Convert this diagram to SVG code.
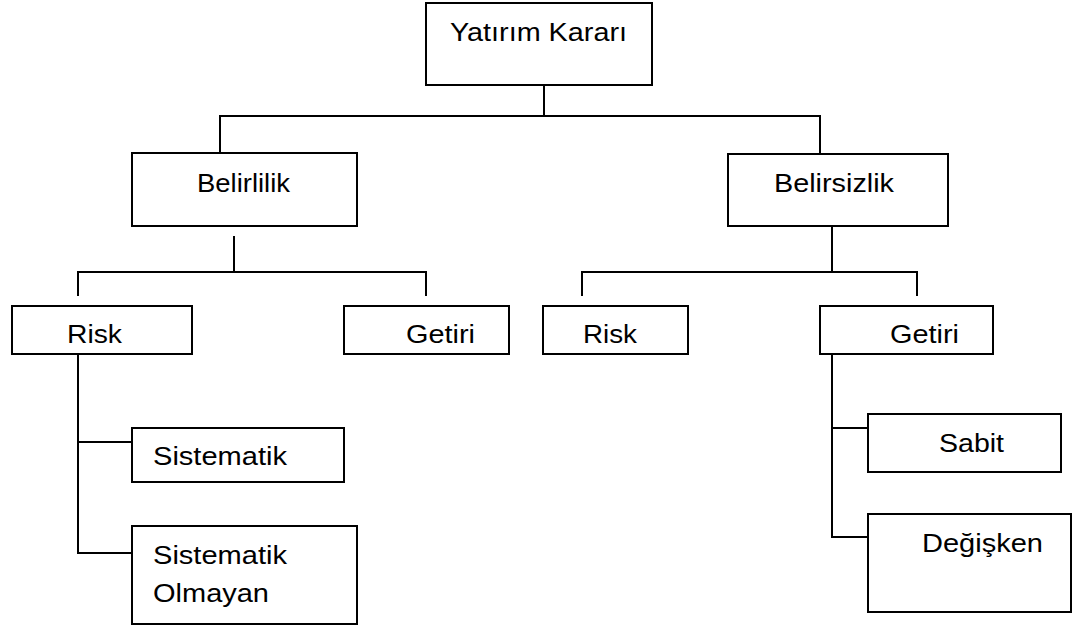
<svg xmlns="http://www.w3.org/2000/svg" width="1072" height="626" viewBox="0 0 1072 626">
  <style>
    .box { fill: #ffffff; stroke: #000000; stroke-width: 2; }
    .lbl { font-family: "Liberation Sans", Arial, sans-serif; font-size: 26px; fill: #000000; }
    .wire { fill: none; stroke: #000000; stroke-width: 2; }
  </style>
  <rect width="1072" height="626" fill="#ffffff"/>

  <!-- connectors -->
  <g id="connectors" class="wire">
    <path d="M544 85 V116 M220 153 V116 H820 V154"/>
    <path d="M234 236 V272 M78 296 V272 H426 V296"/>
    <path d="M832 226 V272 M582 296 V272 H917 V296"/>
    <path d="M78 354 V553 H132 M78 442 H132"/>
    <path d="M832 354 V537 H868 M832 428 H868"/>
  </g>

  <g id="yatirim-karari">
    <rect class="box" x="426" y="3" width="226" height="82"/>
    <text class="lbl" x="450" y="41" textLength="177" lengthAdjust="spacingAndGlyphs">Yatırım Kararı</text>
  </g>

  <g id="belirlilik">
    <rect class="box" x="132" y="153" width="225" height="73"/>
    <text class="lbl" x="197" y="192" textLength="93" lengthAdjust="spacingAndGlyphs">Belirlilik</text>
  </g>

  <g id="belirsizlik">
    <rect class="box" x="728" y="154" width="220" height="72"/>
    <text class="lbl" x="774" y="192" textLength="120" lengthAdjust="spacingAndGlyphs">Belirsizlik</text>
  </g>

  <g id="risk-1">
    <rect class="box" x="12" y="306" width="180" height="48"/>
    <text class="lbl" x="67" y="343" textLength="55" lengthAdjust="spacingAndGlyphs">Risk</text>
  </g>

  <g id="getiri-1">
    <rect class="box" x="344" y="306" width="165" height="48"/>
    <text class="lbl" x="406" y="343" textLength="69" lengthAdjust="spacingAndGlyphs">Getiri</text>
  </g>

  <g id="risk-2">
    <rect class="box" x="543" y="306" width="145" height="48"/>
    <text class="lbl" x="583" y="343" textLength="54" lengthAdjust="spacingAndGlyphs">Risk</text>
  </g>

  <g id="getiri-2">
    <rect class="box" x="820" y="306" width="173" height="48"/>
    <text class="lbl" x="890" y="343" textLength="69" lengthAdjust="spacingAndGlyphs">Getiri</text>
  </g>

  <g id="sistematik">
    <rect class="box" x="132" y="428" width="212" height="54"/>
    <text class="lbl" x="153" y="465" textLength="134" lengthAdjust="spacingAndGlyphs">Sistematik</text>
  </g>

  <g id="sistematik-olmayan">
    <rect class="box" x="132" y="526" width="225" height="98"/>
    <text class="lbl" x="153" y="564" textLength="134" lengthAdjust="spacingAndGlyphs">Sistematik</text>
    <text class="lbl" x="153" y="602" textLength="116" lengthAdjust="spacingAndGlyphs">Olmayan</text>
  </g>

  <g id="sabit">
    <rect class="box" x="868" y="414" width="193" height="58"/>
    <text class="lbl" x="939" y="452" textLength="65" lengthAdjust="spacingAndGlyphs">Sabit</text>
  </g>

  <g id="degisken">
    <rect class="box" x="868" y="514" width="203" height="98"/>
    <text class="lbl" x="922" y="552" textLength="121" lengthAdjust="spacingAndGlyphs">Değişken</text>
  </g>
</svg>
